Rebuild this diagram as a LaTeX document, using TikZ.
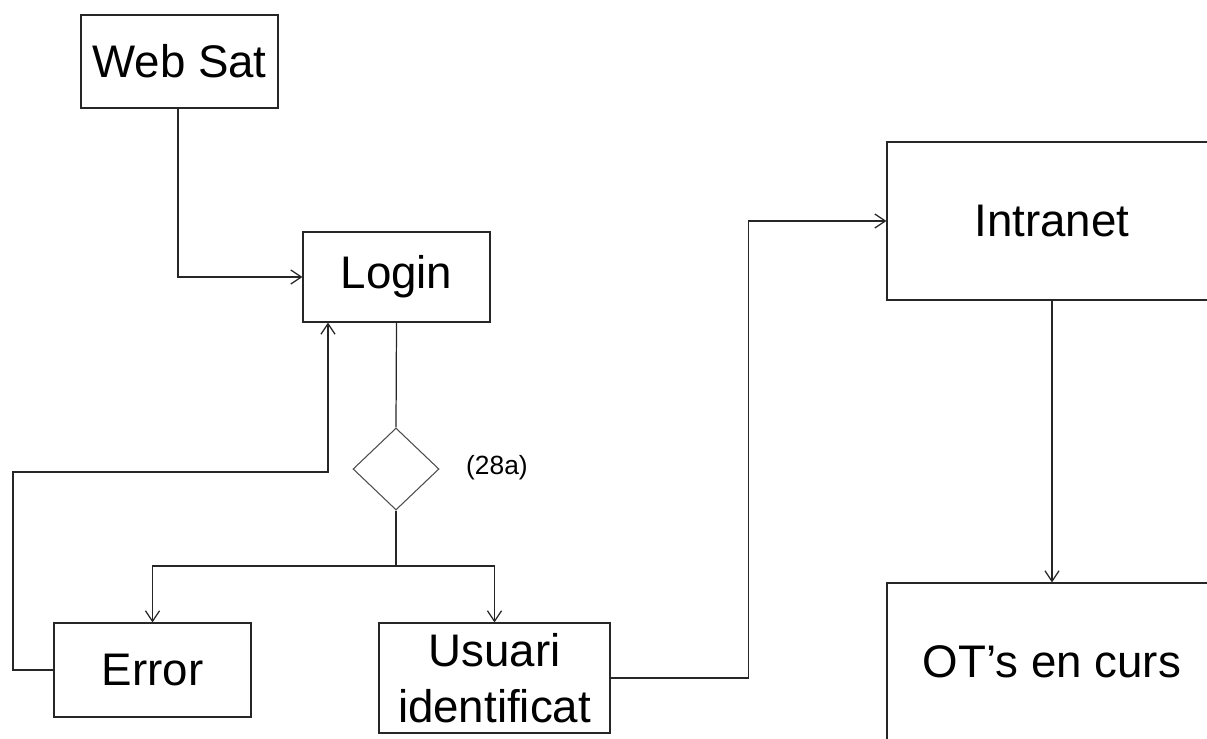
\documentclass[tikz,border=0pt]{standalone}
\usepackage{fontspec}
\setmainfont{Liberation Sans}
\usetikzlibrary{shapes.geometric,arrows.meta}
\newcommand{\bigtxt}{\fontsize{26pt}{32pt}\selectfont}

\begin{document}
\begin{tikzpicture}[x=0.02cm,y=-0.02cm,
	box/.style={draw=black!85,line width=0.7pt,rectangle,inner sep=0pt,align=center,font=\bigtxt},
	arr/.style={draw=black!85,line width=0.7pt,-{Straight Barb[length=6pt,width=8pt]}},
	ln/.style={draw=black!85,line width=0.7pt}]
	\useasboundingbox (0,0) rectangle (1207,738);
	\clip (0,0) rectangle (1207,738);
	\node[box,minimum width=3.94cm,minimum height=1.86cm] (websat) at (179.5,61.5) {Web Sat};
	\node[box,minimum width=3.74cm,minimum height=1.8cm] (login) at (396.5,277) {Login};
	\node[draw=black!70,line width=0.6pt,diamond,inner sep=0pt,minimum width=1.72cm,minimum height=1.64cm] (dec) at (396,469) {};
	\node[font=\fontsize{15pt}{18pt}\selectfont,anchor=west] (lbl) at (460,468) {(28a)};
	\node[box,minimum width=3.94cm,minimum height=1.88cm] (error) at (152.5,670) {Error};
	\node[box,minimum width=4.62cm,minimum height=2.2cm] (usuari) at (494.5,678) {Usuari\\identificat};
	\node[box,minimum width=6.6cm,minimum height=3.16cm] (intranet) at (1052,221) {Intranet};
	\node[box,minimum width=6.6cm,minimum height=3.16cm] (ots) at (1052,662) {OT’s en curs};
	\coordinate (split) at (396,566);
	\coordinate (loopl) at (13,472);
	\coordinate (back) at (328,472);
	\draw[arr] (websat.south -| 178,0) |- (login.west);
	\draw[ln] (login.south) -- (dec.north);
	\draw[ln] (dec.south) -- (split);
	\draw[arr] (split) -| (error.north);
	\draw[arr] (split) -| (usuari.north);
	\draw[arr] (error.west) -| (loopl) -- (back) -- (back |- login.south);
	\draw[arr] (usuari.east) -- ++(138,0) |- (intranet.west);
	\draw[arr] (intranet.south) -- (ots.north);
\end{tikzpicture}
\end{document}
